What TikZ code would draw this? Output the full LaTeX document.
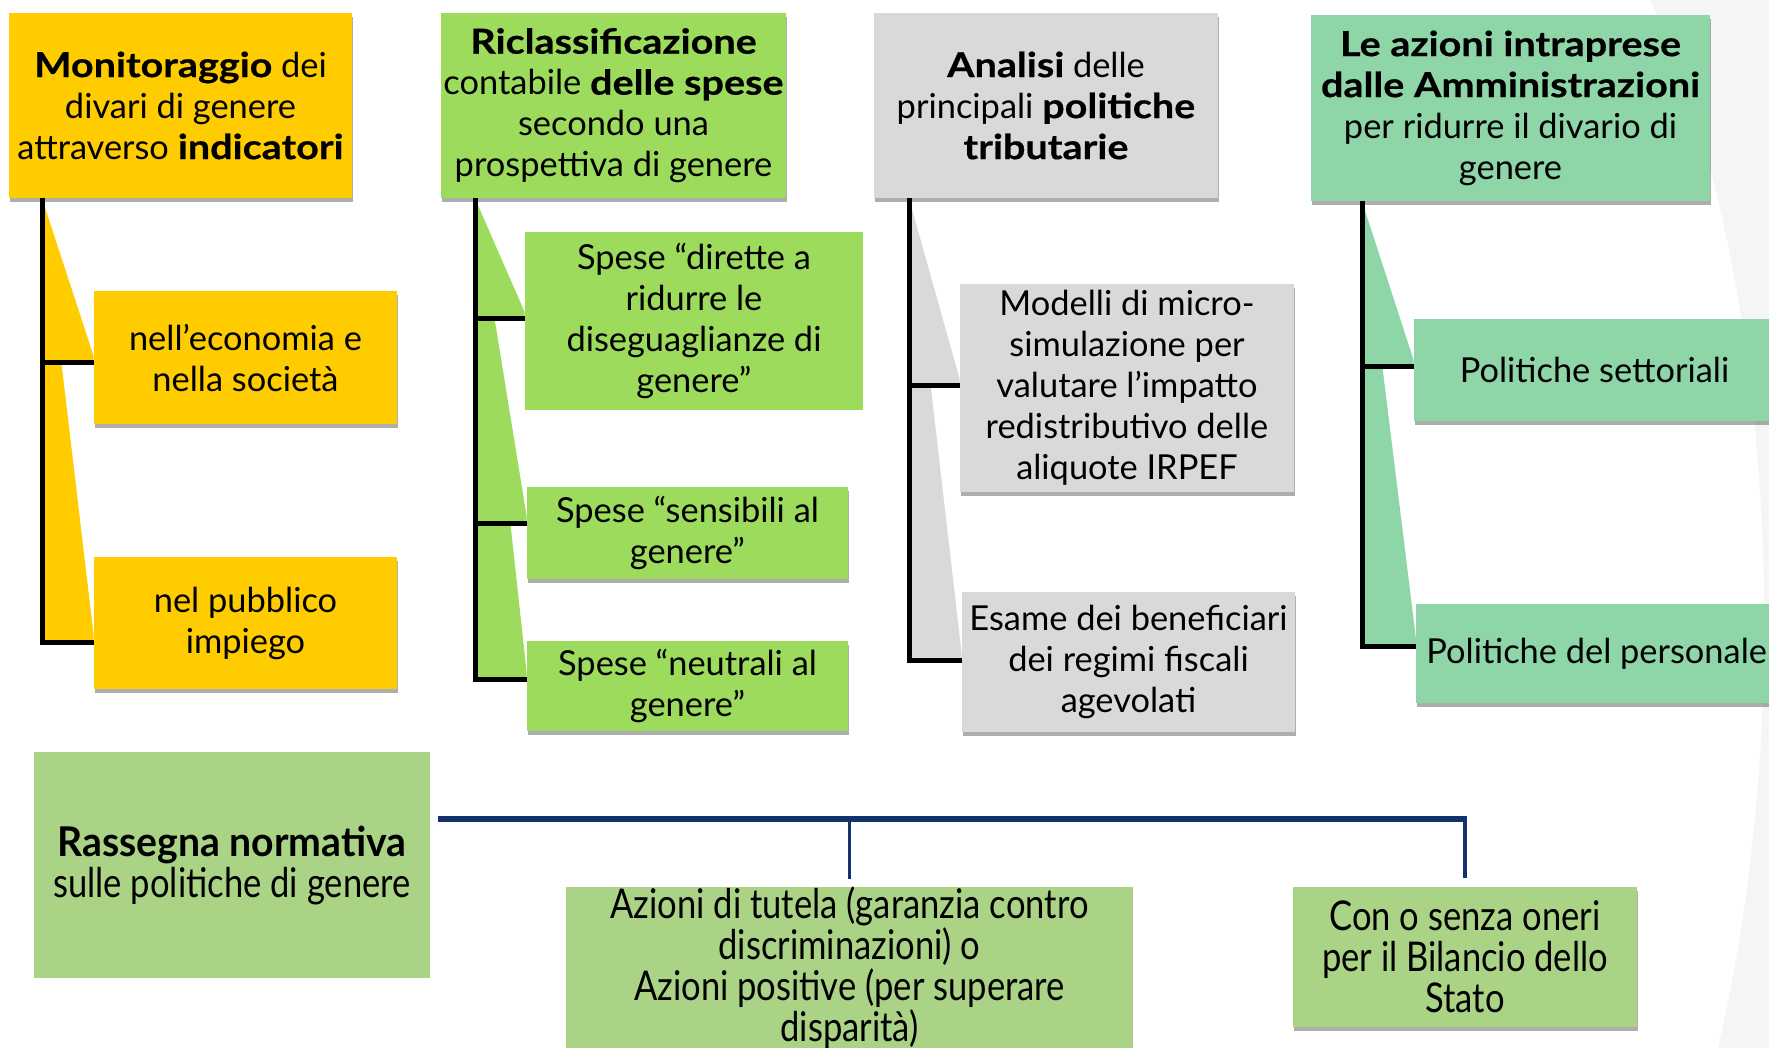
\documentclass[tikz,border=0pt]{standalone}
\usepackage{fontspec}
\setmainfont{Lato}[BoldFeatures={FakeStretch=1.15,FakeBold=0.5}]
\newfontfamily\condfont{Lato}[UprightFeatures={FakeStretch=0.843}, BoldFeatures={FakeStretch=0.955}]
\usetikzlibrary{shadows,calc}
\definecolor{cY}{HTML}{FFCC00}
\definecolor{cG}{HTML}{9CDB5C}
\definecolor{cGr}{HTML}{D9D9D9}
\definecolor{cM}{HTML}{8ED5A8}
\definecolor{cB}{HTML}{ABD386}
\definecolor{navy}{HTML}{12326B}
\definecolor{bgarc}{HTML}{F5F5F5}
\pgfdeclarelayer{bglayer}
\pgfdeclarelayer{wedgelayer}
\pgfsetlayers{bglayer,wedgelayer,main}
\tikzset{
  box/.style={rectangle, inner sep=0pt, align=center, text=black,
    font=\fontsize{17.2}{20.5}\selectfont},
  cbox/.style={box, font=\condfont\fontsize{20.5}{20.5}\selectfont},
  sh/.style={drop shadow={shadow xshift=0.3pt, shadow yshift=-2pt, opacity=0.45, fill=black!70}},
  tree/.style={line width=2.5pt, black, line join=miter},
  bus/.style={line width=3pt, navy},
  busdrop/.style={line width=1.75pt, navy},
}
\begin{document}
\begin{tikzpicture}[x=0.5pt,y=-0.5pt]
\useasboundingbox (0,0) rectangle (1769,1048);
\begin{pgfonlayer}{bglayer}
\fill[white] (0,0) rectangle (1769,1048);
\fill[bgarc] (1650,0) .. controls (1770,250) and (1800,700) .. (1718,1048) -- (1769,1048) -- (1769,0) -- cycle;
\end{pgfonlayer}

% column heads
\node[box, sh, fill=cY, minimum width=171.5pt, minimum height=92.5pt] (T1) at (180.5,105.5)
  {\textbf{Monitoraggio} dei\\divari di genere\\attraverso \textbf{indicatori}};
\node[box, sh, fill=cG, minimum width=172.5pt, minimum height=92.5pt] (T2) at (613.5,105.5)
  {\textbf{Riclassificazione}\\contabile \textbf{delle spese}\\secondo una\\prospettiva di genere};
\node[box, sh, fill=cGr, minimum width=172pt, minimum height=92.5pt] (T3) at (1046,105.5)
  {\textbf{Analisi} delle\\principali \textbf{politiche}\\\textbf{tributarie}};
\node[box, sh, fill=cM, minimum width=199.5pt, minimum height=93pt] (T4) at (1510.5,108)
  {\textbf{Le azioni intraprese}\\\textbf{dalle Amministrazioni}\\per ridurre il divario di\\genere};

% children
\node[box, sh, fill=cY, minimum width=151.5pt, minimum height=66.5pt] (Y1) at (245.5,357.5)
  {nell’economia e\\nella società};
\node[box, sh, fill=cY, minimum width=151.5pt, minimum height=66pt] (Y2) at (245.5,623)
  {nel pubblico\\impiego};
\node[box, fill=cG, minimum width=169pt, minimum height=89pt] (G1) at (694,321)
  {Spese “dirette a\\ridurre le\\diseguaglianze di\\genere”};
\node[box, sh, fill=cG, minimum width=160.5pt, minimum height=46pt] (G2) at (687.5,533)
  {Spese “sensibili al\\genere”};
\node[box, sh, fill=cG, minimum width=160.5pt, minimum height=45pt] (G3) at (687.5,686)
  {Spese “neutrali al\\genere”};
\node[box, sh, fill=cGr, minimum width=167pt, minimum height=104pt] (R1) at (1127,388)
  {Modelli di micro-\\simulazione per\\valutare l’impatto\\redistributivo delle\\aliquote IRPEF};
\node[box, sh, fill=cGr, minimum width=166.5pt, minimum height=70pt] (R2) at (1128.5,662)
  {Esame dei beneficiari\\dei regimi fiscali\\agevolati};
\node[box, sh, fill=cM, minimum width=180.5pt, minimum height=51pt] (M1) at (1594.5,370)
  {Politiche settoriali};
\node[box, sh, fill=cM, anchor=west, inner xsep=5pt, minimum height=49.5pt] (M2) at (1416,653.5)
  {\makebox[200pt][l]{Politiche del personale}};

% bottom
\node[cbox, fill=cB, minimum width=198pt, minimum height=113pt] (R) at (232,865)
  {\textbf{Rassegna normativa}\\sulle politiche di genere};
\node[cbox, fill=cB, minimum width=283.5pt, minimum height=80.5pt] (A) at (849.5,967.5)
  {Azioni di tutela (garanzia contro\\discriminazioni) o\\Azioni positive (per superare\\disparità)};
\node[cbox, sh, fill=cB, minimum width=172pt, minimum height=70pt] (C) at (1465,957)
  {Con o senza oneri\\per il Bilancio dello\\Stato};

% trunk x positions and branch points
\coordinate (l1) at (42,0);
\coordinate (l2) at (475,0);
\coordinate (l3) at (909,0);
\coordinate (l4) at (1362,0);
\coordinate (b11) at ($(Y1.west)+(0,5.5)$);
\coordinate (b12) at ($(Y2.west)+(0,19)$);
\coordinate (b21) at ($(G1.west)+(0,-2)$);
\coordinate (b22) at ($(G2.west)+(0,-10)$);
\coordinate (b23) at ($(G3.west)+(0,-7)$);
\coordinate (b31) at ($(R1.west)+(0,-2)$);
\coordinate (b32) at ($(R2.west)+(0,-2)$);
\coordinate (b41) at ($(M1.west)+(0,-3)$);
\coordinate (b42) at ($(M2.west)+(0,-7.5)$);

% wedges
\begin{pgfonlayer}{wedgelayer}
\foreach \l/\t/\b/\c in {l1/T1/b11/cY, l1/T1/b12/cY,
    l2/T2/b21/cG, l2/T2/b22/cG, l2/T2/b23/cG,
    l3/T3/b31/cGr, l3/T3/b32/cGr,
    l4/T4/b41/cM, l4/T4/b42/cM}{
  \fill[\c] (\l |- \t.south) -- ($(\b)+(0,-7)$) -- (\b) -- (\l |- \b) -- cycle;
}
\end{pgfonlayer}

% tree connectors
\draw[tree] (l1 |- T1.south) -- (l1 |- b12) -- (b12);
\draw[tree] (l1 |- b11) -- (b11);
\draw[tree] (l2 |- T2.south) -- (l2 |- b23) -- (b23);
\draw[tree] (l2 |- b21) -- (b21);
\draw[tree] (l2 |- b22) -- (b22);
\draw[tree] (l3 |- T3.south) -- (l3 |- b32) -- (b32);
\draw[tree] (l3 |- b31) -- (b31);
\draw[tree] (l4 |- T4.south) -- (l4 |- b42) -- (b42);
\draw[tree] (l4 |- b41) -- (b41);

% bottom bus
\coordinate (busL) at (438,819);
\draw[bus] (busL) -- ([xshift=0.9pt]C.north |- busL);
\draw[busdrop, shorten >=3.5pt] ([yshift=1.5pt]A.north |- busL) -- (A.north);
\draw[busdrop, shorten >=4.5pt] ([yshift=1.5pt]C.north |- busL) -- (C.north);
\end{tikzpicture}
\end{document}
